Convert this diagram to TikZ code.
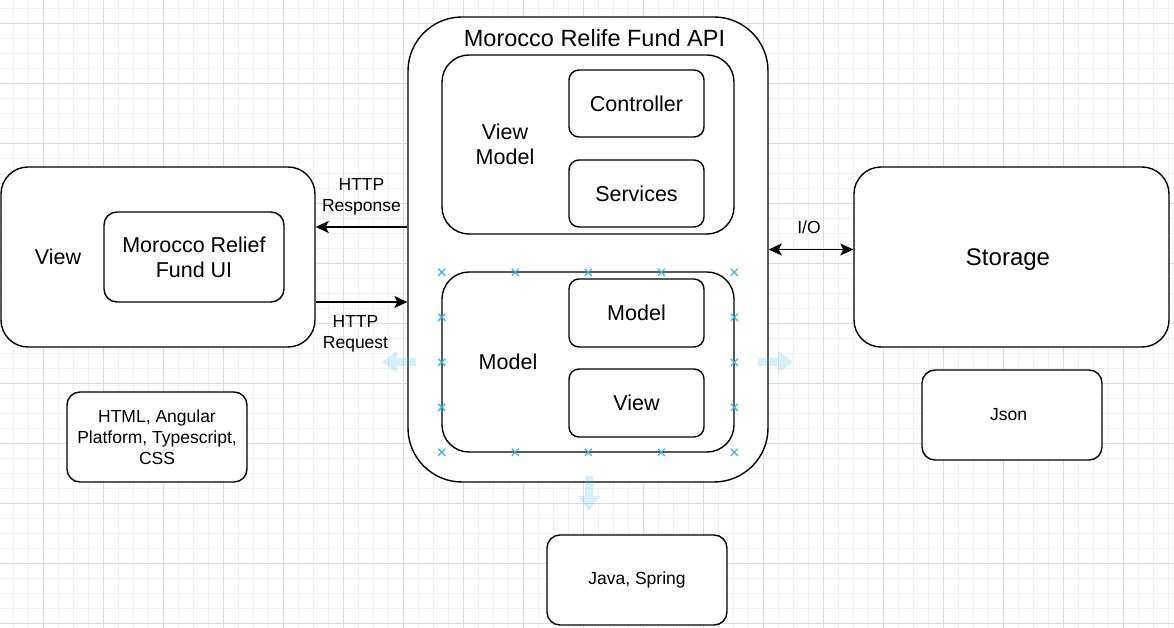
\documentclass[tikz,border=0pt]{standalone}
\usepackage{fontspec}
\setmainfont{Liberation Sans}
\usetikzlibrary{arrows.meta}

\definecolor{hoverblue}{RGB}{41,182,242}
\definecolor{majorgray}{RGB}{218,218,218}
\definecolor{minorgray}{RGB}{240,240,240}
\newcommand\topfont{\fontsize{23.5}{26}\selectfont}
\newcommand\midfont{\fontsize{21.5}{25}\selectfont}
\newcommand\lblfont{\fontsize{17.5}{21}\selectfont}

\begin{document}
\begin{tikzpicture}
   [x=1pt,y=-1pt,
    box/.style={draw=black, line width=1.4pt, fill=white, rounded corners=#1, inner sep=0pt, align=center, font=\midfont},
    box/.default=13pt,
    txt/.style={inner sep=1pt, align=center, font=\midfont},
    lbl/.style={inner sep=1pt, align=center, font=\lblfont},
    flow/.style={-{Stealth[length=13pt,width=12pt,inset=3pt]}, line width=1.3pt},
    hover/.style={fill=hoverblue, fill opacity=0.2, draw=none},
    xmark/.style={draw=hoverblue, line width=1.2pt}]

  \useasboundingbox (0,0) rectangle (1174,628);
  \fill[white] (0,0) rectangle (1174,628);

  % grid
  \foreach \gx in {13.33,28.33,...,1174} \draw[minorgray, line width=1pt] (\gx,0) -- (\gx,628);
  \foreach \gy in {8.33,23.33,...,628} \draw[minorgray, line width=1pt] (0,\gy) -- (1174,\gy);
  \foreach \gx in {43.33,103.33,...,1174} \draw[majorgray, line width=1pt] (\gx,0) -- (\gx,628);
  \foreach \gy in {23.33,83.33,...,628} \draw[majorgray, line width=1pt] (0,\gy) -- (1174,\gy);

  % client side
  \node[box=27pt, minimum width=314pt, minimum height=180pt] (viewbox) at (158,257) {};
  \node[txt] (viewlbl) at (58,257) {View};
  \node[box, minimum width=180pt, minimum height=90pt] (uibox) at (194,257) {Morocco Relief\\Fund UI};
  \node[box, minimum width=180pt, minimum height=90pt, font=\lblfont] (uitech) at (157,437) {HTML, Angular\\Platform, Typescript,\\CSS};

  % api
  \node[box=54pt, minimum width=360pt, minimum height=465pt] (api) at (588,249.5) {};
  \node[txt, font=\topfont] (apititle) at (594.5,38) {Morocco Relife Fund API};
  \node[box=27pt, minimum width=292pt, minimum height=179pt] (vmbox) at (588,144.5) {};
  \node[txt] (vmlbl) at (505,144) {View\\Model};
  \node[box=10pt, minimum width=135pt, minimum height=67pt] (ctrl) at (636.5,103.5) {Controller};
  \node[box=10pt, minimum width=135pt, minimum height=67pt] (serv) at (636.5,193.5) {Services};
  \node[box=27pt, minimum width=292pt, minimum height=180pt] (mdbox) at (588,362) {};
  \node[txt] (mdlbl) at (508,362) {Model};
  \node[box=10pt, minimum width=135pt, minimum height=68pt] (mdl) at (636.5,313) {Model};
  \node[box=10pt, minimum width=135pt, minimum height=68pt] (vw) at (636.5,403) {View};
  \node[box, minimum width=180pt, minimum height=90pt, font=\lblfont] (apitech) at (637,580) {Java, Spring};

  % storage
  \node[box=27pt, minimum width=315pt, minimum height=180pt, font=\fontsize{24}{28}\selectfont, text depth=0pt, xshift=0pt] (storage) at (1011.5,257) {Storage\hspace*{7pt}};
  \node[box, minimum width=180pt, minimum height=90pt, font=\lblfont] (json) at (1012,415) {Json\hspace*{7pt}};

  % connectors
  \draw[flow] ([yshift=22.5pt]api.west) -- ([yshift=30pt]viewbox.east)
     node[lbl, midway, above=10pt] (resplbl) {HTTP\\Response};
  \draw[flow] ([yshift=-45pt]viewbox.east) -- ([yshift=-52.5pt]api.west)
     node[lbl, midway, below=12pt, xshift=-6pt] (reqlbl) {HTTP\\Request};
  \draw[flow, {Stealth[length=13pt,width=12pt,inset=3pt]}-{Stealth[length=13pt,width=12pt,inset=3pt]}] (api.east) -- (storage.west |- api.east)
     node[lbl, midway, above=14pt, xshift=-2pt] (iolbl) {I/O};

  % hover marks
  \foreach \mx in {441.7,515.3,588.3,661.3,734.3}
    \foreach \my in {272.3,452.3}
      \draw[xmark] (\mx-3.5,\my-3.5) -- (\mx+3.5,\my+3.5) (\mx-3.5,\my+3.5) -- (\mx+3.5,\my-3.5);
  \foreach \mx in {441.7,734.3}
    \foreach \my in {317.3,362.3,407.3}
      \draw[xmark] (\mx-3.5,\my-3.5) -- (\mx+3.5,\my+3.5) (\mx-3.5,\my+3.5) -- (\mx+3.5,\my-3.5);

  \fill[hover] (382,362) -- (397,351) -- (397,358) -- (416,358) -- (416,366) -- (397,366) -- (397,373) -- cycle;
  \fill[hover] (793,362) -- (778,351) -- (778,358) -- (758,358) -- (758,366) -- (778,366) -- (778,373) -- cycle;
  \fill[hover] (589,511) -- (578,496) -- (585,496) -- (585,476) -- (593,476) -- (593,496) -- (600,496) -- cycle;

\end{tikzpicture}
\end{document}
